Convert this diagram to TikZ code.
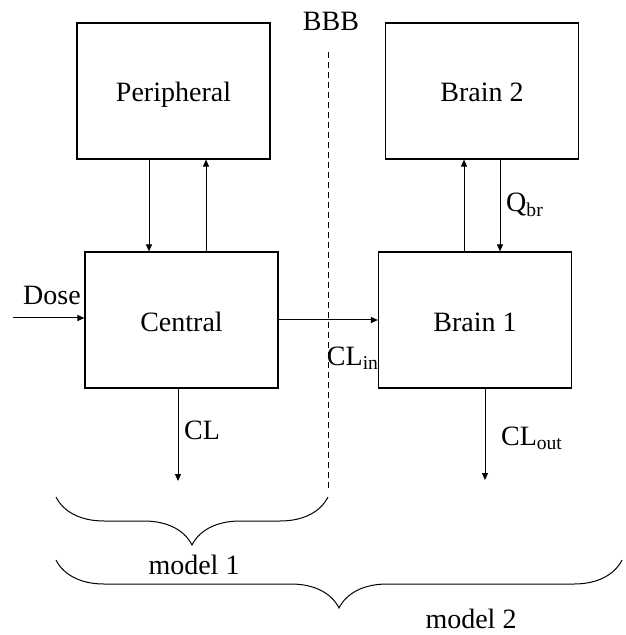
\documentclass[tikz,border=0pt]{standalone}
\usepackage{fontspec}
\setmainfont{Liberation Serif}
\usetikzlibrary{arrows.meta,decorations.pathreplacing}

\begin{document}
\begin{tikzpicture}
  [x=0.5pt,y=-0.5pt,
   boxN/.style={rectangle,draw,line width=0.6pt,minimum width=96.5pt,
     minimum height=68pt,inner sep=0pt,text height=11pt,text depth=0pt,
     font=\fontsize{14}{17}\selectfont},
   labelN/.style={inner sep=0pt,font=\fontsize{14}{17}\selectfont},
   flow/.style={-{Triangle[length=3.5pt,width=3pt]},line width=0.5pt},
   braceN/.style={decorate,decoration={brace,mirror,amplitude=24pt},line width=0.5pt}]

  \useasboundingbox (0,0) rectangle (625,635);

  % compartments
  \node[boxN] (per) at (173.5,91) {Peripheral};
  \node[boxN] (cen) at (181.5,320) {Central};
  \node[boxN] (br2) at (482,91) {Brain 2};
  \node[boxN] (br1) at (475,320) {Brain 1};

  % free ends
  \coordinate (dose) at (13,318);
  \coordinate (clend) at (178,481);
  \coordinate (cloutend) at (485,480);
  \coordinate (bbbtop) at (328,52);
  \coordinate (bbbbot) at (328,488);

  % exchange between boxes
  \draw[flow] ([xshift=-12.25pt]per.south) -- ([xshift=-16.25pt]cen.north);
  \draw[flow] ([xshift=12.25pt]cen.north) -- ([xshift=16.25pt]per.south);
  \draw[flow] ([xshift=-5.5pt]br1.north) -- ([xshift=-9pt]br2.south);
  \draw[flow] ([xshift=9pt]br2.south) -- ([xshift=12.5pt]br1.north);

  \draw[flow] (dose) -- (dose -| cen.west);
  \draw[flow] (cen.east) -- (br1.west);
  \draw[flow] ([xshift=-1.75pt]cen.south) -- (clend);
  \draw[flow] ([xshift=5pt]br1.south) -- (cloutend);

  % barrier
  \draw[densely dashed,line width=0.5pt] (bbbtop) -- (bbbbot);

  % labels
  \node[labelN] (bbb) at (331,21) {BBB};
  \node[labelN] (doseL) at (52,295) {Dose};
  \node[labelN] (qbr) at (525,205) {Q\textsubscript{br}};
  \node[labelN] (clin) at (353,358) {CL\textsubscript{in}};
  \node[labelN] (cl) at (202,430) {CL};
  \node[labelN] (clout) at (532,438) {CL\textsubscript{out}};

  % model braces
  \coordinate (m1a) at (56,497);
  \coordinate (m1b) at (328,497);
  \coordinate (m2a) at (56,560);
  \coordinate (m2b) at (622,560);
  \draw[braceN] (m1a) -- (m1b);
  \draw[braceN] (m2a) -- (m2b);
  \node[labelN] (model1) at (194,565) {model 1};
  \node[labelN] (model2) at (471,619) {model 2};

\end{tikzpicture}
\end{document}
